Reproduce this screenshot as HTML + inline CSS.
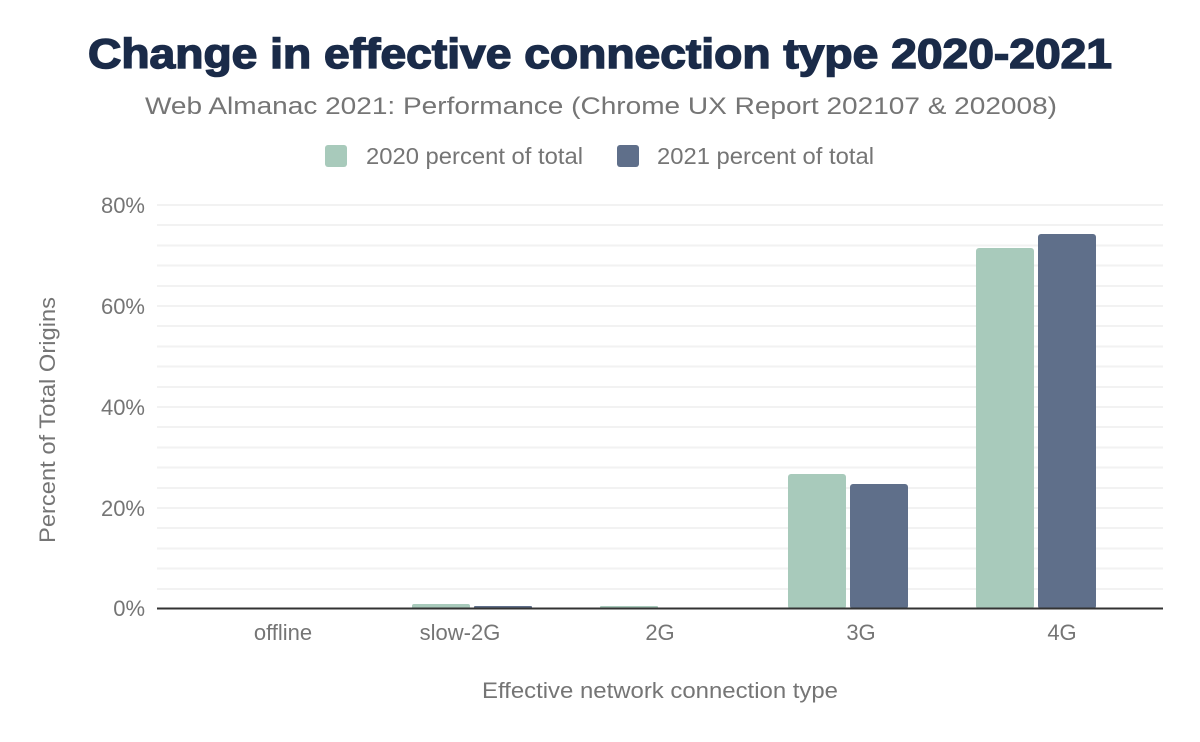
<!DOCTYPE html>
<html><head><meta charset="utf-8"><style>
body{margin:0;background:#fff;}
svg{display:block;font-family:"Liberation Sans",Arial,sans-serif;}
</style></head><body>
<svg width="1200" height="742" viewBox="0 0 1200 742">
<rect width="1200" height="742" fill="#fff"/>
<text x="88" y="68" font-size="42" font-weight="900" fill="#1a2b49" stroke="#1a2b49" stroke-width="1.5" textLength="1024" lengthAdjust="spacingAndGlyphs">Change in effective connection type 2020-2021</text>
<text x="145" y="114" font-size="24" fill="#757575" textLength="912" lengthAdjust="spacingAndGlyphs">Web Almanac 2021: Performance (Chrome UX Report 202107 &amp; 202008)</text>
<rect x="325" y="145" width="22" height="22" rx="3" fill="#a8cabb"/>
<text x="366" y="164" font-size="23" fill="#757575" textLength="217" lengthAdjust="spacingAndGlyphs">2020 percent of total</text>
<rect x="617" y="145" width="22" height="22" rx="3" fill="#5f6f8a"/>
<text x="657" y="164" font-size="23" fill="#757575" textLength="217" lengthAdjust="spacingAndGlyphs">2021 percent of total</text>
<g stroke="#f2f2f2" stroke-width="2">
<line x1="157" x2="1163" y1="205" y2="205"/><line x1="157" x2="1163" y1="225" y2="225"/><line x1="157" x2="1163" y1="245.5" y2="245.5"/><line x1="157" x2="1163" y1="265.5" y2="265.5"/><line x1="157" x2="1163" y1="286" y2="286"/>
<line x1="157" x2="1163" y1="306" y2="306"/><line x1="157" x2="1163" y1="326" y2="326"/><line x1="157" x2="1163" y1="346.5" y2="346.5"/><line x1="157" x2="1163" y1="366.5" y2="366.5"/><line x1="157" x2="1163" y1="387" y2="387"/>
<line x1="157" x2="1163" y1="407" y2="407"/><line x1="157" x2="1163" y1="427" y2="427"/><line x1="157" x2="1163" y1="447.5" y2="447.5"/><line x1="157" x2="1163" y1="467.5" y2="467.5"/><line x1="157" x2="1163" y1="488" y2="488"/>
<line x1="157" x2="1163" y1="508" y2="508"/><line x1="157" x2="1163" y1="528" y2="528"/><line x1="157" x2="1163" y1="548.5" y2="548.5"/><line x1="157" x2="1163" y1="568.5" y2="568.5"/><line x1="157" x2="1163" y1="589" y2="589"/>
</g>
<g font-size="22" fill="#757575" text-anchor="end">
<text x="145" y="213">80%</text><text x="145" y="314">60%</text><text x="145" y="415">40%</text><text x="145" y="516">20%</text><text x="145" y="616">0%</text>
</g>
<text transform="translate(55,420) rotate(-90)" text-anchor="middle" font-size="22" fill="#757575" textLength="246" lengthAdjust="spacingAndGlyphs">Percent of Total Origins</text>
<g fill="#a8cabb">
<rect x="412" y="604" width="58" height="5" rx="2"/>
<rect x="600" y="606" width="58" height="3" rx="1"/>
<rect x="788" y="474" width="58" height="135" rx="3"/>
<rect x="976" y="248" width="58" height="361" rx="3"/>
</g>
<g fill="#5f6f8a">
<rect x="474" y="606" width="58" height="3" rx="1"/>
<rect x="850" y="484" width="58" height="125" rx="3"/>
<rect x="1038" y="234" width="58" height="375" rx="3"/>
</g>
<line x1="157" x2="1163" y1="608.5" y2="608.5" stroke="#333" stroke-width="2"/>
<g font-size="22" fill="#757575" text-anchor="middle">
<text x="283" y="640">offline</text><text x="460" y="640">slow-2G</text><text x="660" y="640">2G</text><text x="861" y="640">3G</text><text x="1062" y="640">4G</text>
</g>
<text x="660" y="698" text-anchor="middle" font-size="22" fill="#757575" textLength="356" lengthAdjust="spacingAndGlyphs">Effective network connection type</text>
</svg>
</body></html>
